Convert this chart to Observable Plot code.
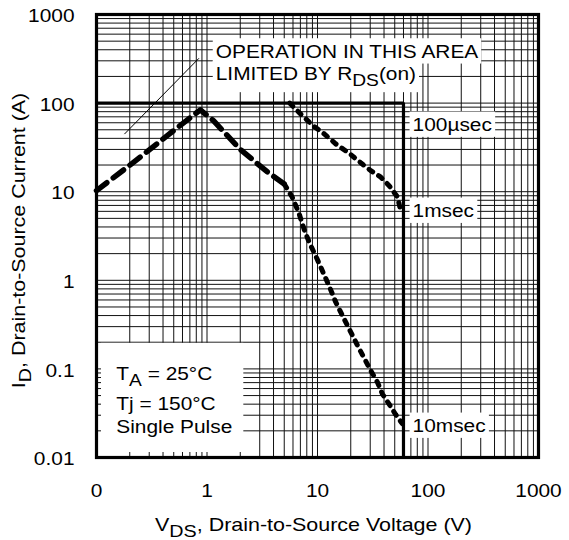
<!DOCTYPE html>
<html><head><meta charset="utf-8">
<script src="https://cdn.jsdelivr.net/npm/d3@7"></script>
<script src="https://cdn.jsdelivr.net/npm/@observablehq/plot@0.6"></script>
<style>
html,body{margin:0;padding:0;background:#fff;}
#chart svg{display:block;}
</style></head><body><div id="chart"></div>
<script>
// ---- axis ticks ----
const xTickValues = [0.1, 1, 10, 100, 1000];
const xTickLabels = ["0", "1", "10", "100", "1000"];
const yTickValues = [0.01, 0.1, 1, 10, 100, 1000];
const yTickLabels = ["0.01", "0.1", "1", "10", "100", "1000"];
const gridMultipliers = [1, 2, 3, 4, 5, 6, 7, 8, 9];
const xTitle = "V_{DS}, Drain-to-Source Voltage (V)";
const yTitle = "I_{D}, Drain-to-Source Current (A)";

// ---- curves (V, A) ----
// RDS(on) limited line + start of 10 msec curve (dashed)
const dashedV = [0.1, 0.216, 0.437, 0.87, 1.15, 2.0, 3.5, 5.0];
const dashedI = [10.3, 21.4, 43, 84, 63, 30, 16.8, 12.2];
// 10 msec curve (dotted)
const ms10V = [5.0, 5.9, 6.8, 7.6, 8.5, 9.6, 10.7, 12.7, 14.6, 16.8, 20, 23, 26.4, 30.3, 34.8, 38.7, 44.5, 51, 58.7];
const ms10I = [12.2, 8.7, 5.7, 3.7, 2.6, 1.9, 1.41, 0.87, 0.57, 0.40, 0.26, 0.184, 0.133, 0.096, 0.071, 0.052, 0.040, 0.0305, 0.024];
// 1 msec curve (dotted)
const ms1V = [5.6, 7.3, 9.3, 11.5, 14.6, 19.3, 24.6, 30.3, 37.4, 44.5, 53, 56.4];
const ms1I = [100, 72, 54.5, 45, 34.7, 27.2, 21.2, 17.3, 14.6, 11.7, 8.7, 6.2];
// 100 A / 60 V limit (100 µsec)
const limitV = [0.1, 60, 60];
const limitI = [100, 100, 0.01];
// leader line of the RDS(on) note
const leaderV = [0.18, 0.84];
const leaderI = [45, 318];

// ---- annotations ----
const noteText = ["OPERATION IN THIS AREA", "LIMITED BY R_{DS}(on)", "100µsec", "1msec", "10msec"];
const noteV = [1.2, 1.2, 72.5, 72.5, 72.5];
const noteI = [324, 180, 48.2, 5.15, 0.0193];
const condText = ["T_{A} = 25°C", "Tj = 150°C", "Single Pulse"];
const condV = [0.151, 0.151, 0.151];
const condI = [0.074, 0.034, 0.019];

// grid positions (every 1..9 within each decade)
const xGrid = [];
for (const d of [0.1, 1, 10, 100]) for (const m of gridMultipliers) xGrid.push(+(d * m).toPrecision(3));
xGrid.push(1000);
const yGrid = [];
for (const d of [0.01, 0.1, 1, 10, 100]) for (const m of gridMultipliers) yGrid.push(+(d * m).toPrecision(3));
yGrid.push(1000);

const idx = a => a.map((_, i) => i);
const series = (V, I, opts) => Plot.line(idx(V), {x: i => V[i], y: i => I[i], stroke: "#000", ...opts});

const svg = Plot.plot({
  width: 569, height: 540,
  marginLeft: 96, marginRight: 31, marginTop: 14, marginBottom: 83,
  style: {fontFamily: "'Liberation Sans', Arial, sans-serif", fontSize: "18px", background: "#fff", color: "#000"},
  x: {type: "log", domain: [0.1, 1000], axis: null},
  y: {type: "log", domain: [0.01, 1000], axis: null},
  marks: [
    Plot.ruleX(xGrid, {stroke: "#111", strokeWidth: 1}),
    Plot.ruleY(yGrid, {stroke: "#111", strokeWidth: 1}),
    series(leaderV, leaderI, {strokeWidth: 1}),
    series(limitV, limitI, {strokeWidth: 3.2, strokeLinejoin: "miter"}),
    series(dashedV, dashedI, {strokeWidth: 5.5, strokeDasharray: "13,8"}),
    series(ms10V, ms10I, {strokeWidth: 5, strokeDasharray: "4.5,7"}),
    series(ms1V, ms1I, {strokeWidth: 5, strokeDasharray: "4.5,7"}),
    Plot.frame({stroke: "#000", strokeWidth: 3.2}),
    Plot.text(noteText, {x: (d, i) => noteV[i], y: (d, i) => noteI[i], text: d => d, textAnchor: "start", lineAnchor: "bottom", fill: "#000"}),
    Plot.text(condText, {x: (d, i) => condV[i], y: (d, i) => condI[i], text: d => d, textAnchor: "start", lineAnchor: "bottom", fill: "#000"}),
    Plot.text(xTickValues, {x: d => d, text: (d, i) => xTickLabels[i], frameAnchor: "bottom", textAnchor: "middle", lineAnchor: "bottom", dy: 39, fill: "#000"}),
    Plot.text(yTickValues, {y: d => d, text: (d, i) => yTickLabels[i], frameAnchor: "left", textAnchor: "end", lineAnchor: "middle", dx: -22, dy: 2, fill: "#000"}),
    Plot.text([xTitle], {text: d => d, frameAnchor: "bottom", textAnchor: "middle", lineAnchor: "bottom", dy: 73, dx: -4, fontSize: 18.5, fill: "#000"}),
    Plot.text([yTitle], {text: d => d, frameAnchor: "left", textAnchor: "middle", rotate: -90, lineAnchor: "middle", dx: -77, dy: 4.5, fontSize: 18.5, fill: "#000"})
  ]
});
document.getElementById("chart").append(svg);

// ---- subscripts + horizontal stretch of the lettering ----
const NS = "http://www.w3.org/2000/svg";
const STRETCH = 1.16;
const strip = s => s.replace(/_\{([^}]*)\}/g, "$1");
svg.querySelectorAll("text").forEach(t => {
  const s = t.textContent;
  if (s.includes("_{")) {
    const parts = s.split(/_\{([^}]*)\}/);
    t.textContent = "";
    let shifted = false;
    parts.forEach((p, i) => {
      if (!p) return;
      const ts = document.createElementNS(NS, "tspan");
      ts.textContent = p;
      if (i % 2 === 1) { ts.setAttribute("dy", "6"); ts.setAttribute("font-size", "92%"); shifted = true; }
      else if (shifted) { ts.setAttribute("dy", "-6"); shifted = false; }
      t.appendChild(ts);
    });
  }
  const x = parseFloat(t.getAttribute("x")) || 0;
  const tr = t.getAttribute("transform") || "";
  t.setAttribute("transform", `${tr} translate(${x},0) scale(${STRETCH},1) translate(${-x},0)`);
});

// ---- white label boxes that interrupt the grid ----
const sr = svg.getBoundingClientRect();
const allText = Array.from(svg.querySelectorAll("text"));
const rectOf = els => {
  let l = Infinity, t = Infinity, r = -Infinity, b = -Infinity;
  els.forEach(e => { const q = e.getBoundingClientRect(); l = Math.min(l, q.left); t = Math.min(t, q.top); r = Math.max(r, q.right); b = Math.max(b, q.bottom); });
  return {l: l - sr.left, t: t - sr.top, r: r - sr.left, b: b - sr.top};
};
const boxG = document.createElementNS(NS, "g");
const addBox = (l, t, r, b) => {
  const rc = document.createElementNS(NS, "rect");
  rc.setAttribute("x", l); rc.setAttribute("y", t);
  rc.setAttribute("width", r - l); rc.setAttribute("height", b - t);
  rc.setAttribute("fill", "#fff");
  boxG.appendChild(rc);
};
noteText.map(strip).forEach(s => {
  const els = allText.filter(e => e.textContent === s);
  if (!els.length) return;
  const q = rectOf(els);
  addBox(q.l - 3, q.t - 3, q.r + 3, q.b + 2);
});
{
  const cs = condText.map(strip);
  const els = allText.filter(e => cs.includes(e.textContent));
  if (els.length) {
    const q = rectOf(els);
    const fx = 96 + 5, fb = 540 - 83 - 5;
    addBox(fx, q.t - 21, q.r + 11, fb);
  }
}
const rules = svg.querySelectorAll('g[aria-label="rule"]');
rules[rules.length - 1].after(boxG);
</script>
</body></html>
